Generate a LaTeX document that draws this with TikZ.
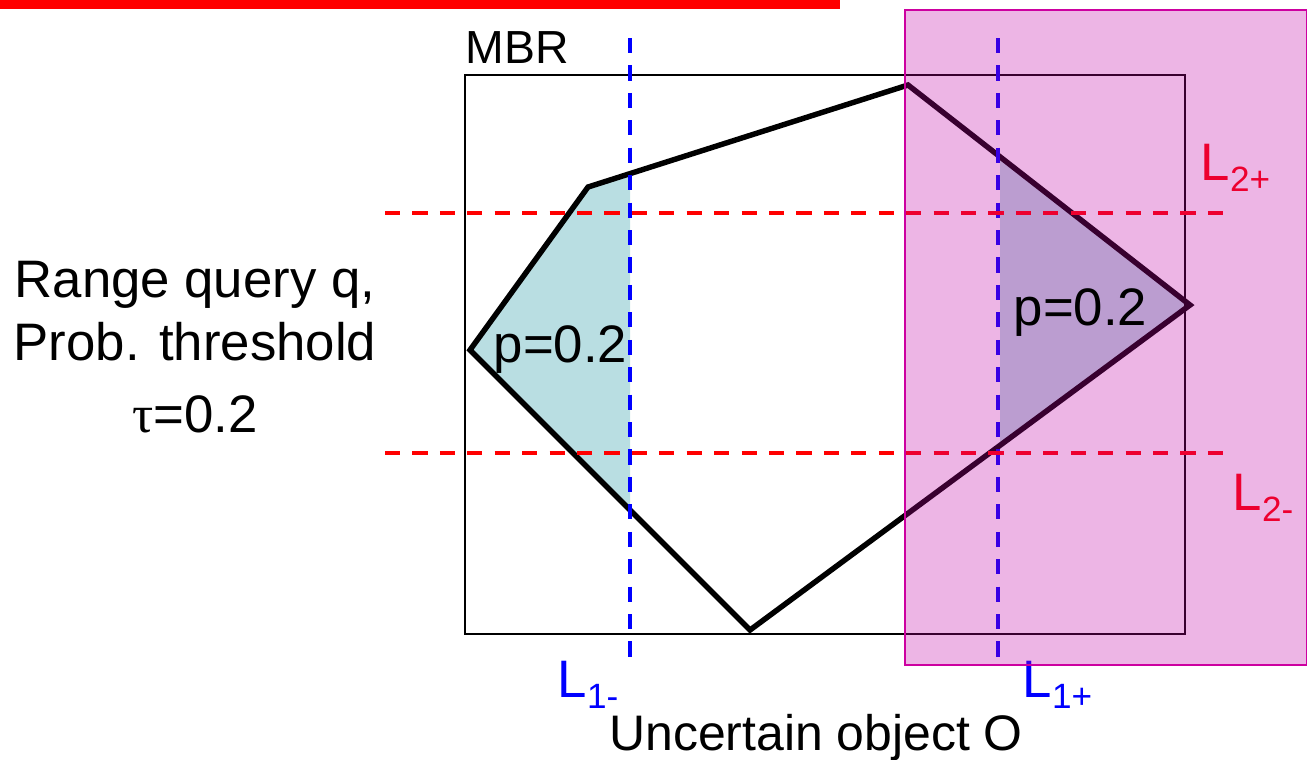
\documentclass[tikz,border=0pt]{standalone}
\usepackage{fontspec}
\setmainfont{Liberation Sans}
\newfontfamily\greekfont{Liberation Serif}
\usetikzlibrary{positioning}
\definecolor{qred}{RGB}{255,0,0}
\definecolor{qblue}{RGB}{0,0,255}
\definecolor{qcyan}{RGB}{185,222,226}
\definecolor{qpink}{RGB}{193,0,165}
\definecolor{qmag}{RGB}{205,0,160}
\newcommand{\Lsub}[1]{L\raisebox{-3.4pt}{\fontsize{10}{12}\selectfont #1}}

\begin{document}
\begin{tikzpicture}[x=.01cm,y=-.01cm,
    lbl/.style={inner sep=0,font=\fontsize{13.2}{16}\selectfont},
    big/.style={inner sep=0,font=\fontsize{15}{18}\selectfont},
    cut/.style={line width=1pt,dash pattern=on 4.3pt off 3.5pt}]
    \useasboundingbox (0,0) rectangle (1307,759);
    \fill[qred] (0,0) rectangle (840,9);
    % uncertain object O
    \coordinate (a) at (470,350); \coordinate (b) at (588,187);
    \coordinate (c) at (908,85);  \coordinate (d) at (1190,305);
    \coordinate (e) at (750,630);
    \begin{scope} \clip (385,0) rectangle (630,759);
      \fill[qcyan] (a)--(b)--(c)--(d)--(e)--cycle; \end{scope}
    \begin{scope} \clip (1000,0) rectangle (1307,759);
      \fill[qcyan] (a)--(b)--(c)--(d)--(e)--cycle; \end{scope}
    \draw[line width=.45pt] (465,75) rectangle (1185,634);
    \draw[line width=1.55pt] (a)--(b)--(c)--(d)--(e)--cycle;
    \node[lbl,anchor=base west] (mbr) at (465,63) {MBR};
    \node[big,anchor=base west] (pl) at (493,362) {p=0.2};
    % query lines
    \foreach \x in {630,998}{\draw[cut,qblue] (\x,38)--(\x,668);}
    \foreach \y in {213,453}{\draw[cut,qred] (385,\y)--(1225,\y);}
    \node[big,qred,anchor=base west] (l2p) at (1200,180) {\Lsub{2+}};
    \node[big,qred,anchor=base west] (l2m) at (1232,510) {\Lsub{2-}};
    \node[big,qblue,anchor=base west] (l1m) at (557,697) {\Lsub{1-}};
    \node[big,qblue,anchor=base west] (l1p) at (1022,697) {\Lsub{1+}};
    \node[inner sep=0,font=\fontsize{14.2}{17}\selectfont,anchor=base] (uo) at (816,750) {Uncertain object O};
    \node[big,anchor=base] (query) at (195,297) {Range query q,};
    \node[big,anchor=base] (prob) at (195,360) {Prob. threshold};
    \node[big,anchor=base] (tau) at (195,432) {{\greekfont τ}=0.2};
    \filldraw[draw=qmag,fill=qpink,fill opacity=.29,line width=.4pt] (905,10) rectangle (1307,665);
    \node[big,anchor=base west] (pr) at (1013,325) {p=0.2};
\end{tikzpicture}
\end{document}
